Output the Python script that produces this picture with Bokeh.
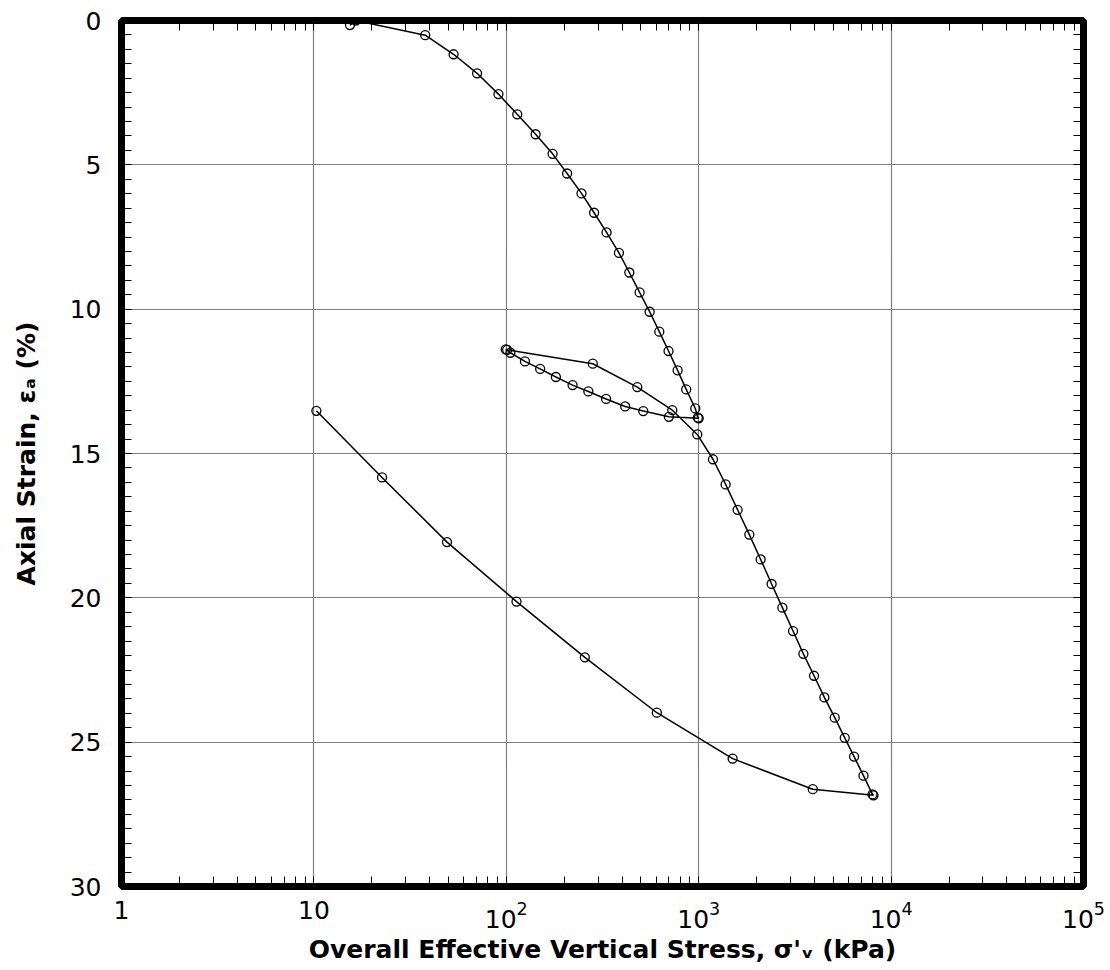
from bokeh.plotting import figure
from bokeh.models import (Range1d, FixedTicker, LogAxis, LinearAxis, LogTickFormatter,
                          CustomJSTickFormatter)
from bokeh.embed import file_html
from bokeh.resources import INLINE

# ---------------- data ----------------
# first loading branch: stress (kPa), axial strain (%)
load1_stress = [15.4, 16.5, 37.9, 53.2, 70.5, 91.0, 114, 142, 174, 207, 246, 286,
                332, 385, 436, 493, 556, 624, 697, 777, 861, 960, 990]
load1_strain = [0.16, 0.0, 0.51, 1.17, 1.83, 2.55, 3.25, 3.94, 4.62, 5.30, 5.99, 6.66,
                7.34, 8.05, 8.73, 9.42, 10.09, 10.78, 11.45, 12.12, 12.78, 13.44, 13.76]
# first unloading branch
unload1_stress = [1000, 700, 515, 415, 330, 267, 221, 181, 150, 125, 105, 99.3, 101]
unload1_strain = [13.78, 13.73, 13.53, 13.37, 13.11, 12.85, 12.63, 12.35, 12.07, 11.81,
                  11.51, 11.39, 11.41]
# reloading and continued loading
reload_stress = [281.5, 479.5, 729, 983, 1186, 1380, 1593, 1833, 2099, 2393, 2723, 3093,
                 3500, 3977, 4500, 5094, 5742, 6422, 7185, 8003]
reload_strain = [11.89, 12.70, 13.50, 14.34, 15.20, 16.07, 16.95, 17.81, 18.67, 19.52,
                 20.34, 21.15, 21.94, 22.70, 23.45, 24.15, 24.85, 25.50, 26.16, 26.81]
# final unloading
unload2_stress = [8100, 3916, 1501, 606, 256, 113, 49.2, 22.6, 10.3]
unload2_strain = [26.84, 26.63, 25.57, 23.98, 22.06, 20.13, 18.07, 15.83, 13.52]

# ticks and tick labels (1 and 10 plain, higher decades as powers of ten)
x_tick_values = [1, 10, 100, 1000, 10000, 100000]
x_plain_labels = {1: "1", 10: "10"}
y_tick_values = [0, 5, 10, 15, 20, 25, 30]

x_title = "Overall Effective Vertical Stress, \u03c3'\u1d65 (kPa)"
y_title = "Axial Strain, \u03b5\u2090 (%)"

# ---------------- figure ----------------
FONT = "DejaVu Sans"
p = figure(x_axis_type="log", x_range=Range1d(1, 1e5), y_range=Range1d(30, 0),
           frame_width=962, frame_height=866,
           min_border_left=121, min_border_right=25, min_border_top=20, min_border_bottom=82,
           output_backend="svg", toolbar_location=None,
           background_fill_color="white", border_fill_color="white")

bottom_axis = p.below[0]
left_axis = p.left[0]

x_minor = [m * 10 ** k for k in range(5) for m in range(2, 10)]
xt = FixedTicker(ticks=x_tick_values, minor_ticks=x_minor)
yt = FixedTicker(ticks=y_tick_values, minor_ticks=[i * 0.5 for i in range(61)])

bottom_axis.ticker = xt
left_axis.ticker = yt
bottom_axis.formatter = LogTickFormatter(min_exponent=1)
bottom_axis.major_label_overrides = x_plain_labels

top_axis = LogAxis(ticker=xt, formatter=CustomJSTickFormatter(code="return ''"))
right_axis = LinearAxis(ticker=yt, formatter=CustomJSTickFormatter(code="return ''"))
p.add_layout(top_axis, "above")
p.add_layout(right_axis, "right")

for ax in [bottom_axis, left_axis, top_axis, right_axis]:
    ax.axis_line_color = None
    ax.major_tick_in = 10
    ax.major_tick_out = 0
    ax.minor_tick_in = 10
    ax.minor_tick_out = 0
    ax.major_tick_line_color = "black"
    ax.minor_tick_line_color = "black"
    ax.major_tick_line_width = 1
    ax.minor_tick_line_width = 1

for ax in [top_axis, right_axis]:
    ax.major_label_text_font_size = "1px"
    ax.major_label_standoff = 0

for ax in [bottom_axis, left_axis]:
    ax.major_label_text_font = FONT
    ax.major_label_text_font_size = "25px"
    ax.major_label_text_color = "black"
    ax.axis_label_text_font = FONT
    ax.axis_label_text_font_size = "25px"
    ax.axis_label_text_font_style = "bold"
    ax.axis_label_text_color = "black"

bottom_axis.major_label_standoff = 14
left_axis.major_label_standoff = 20
bottom_axis.axis_label = x_title
left_axis.axis_label = y_title
bottom_axis.axis_label_standoff = 4
left_axis.axis_label_standoff = 26

p.xgrid.ticker = FixedTicker(ticks=x_tick_values)
p.ygrid.ticker = FixedTicker(ticks=y_tick_values)
for g in [p.xgrid[0], p.ygrid[0]]:
    g.grid_line_color = "#808080"
    g.grid_line_width = 1.2

p.outline_line_color = "black"
p.outline_line_width = 7
p.outline_line_alpha = 1.0

# ---------------- data marks ----------------
all_x = load1_stress + unload1_stress + reload_stress + unload2_stress
all_y = load1_strain + unload1_strain + reload_strain + unload2_strain
p.line(all_x, all_y, line_color="black", line_width=1.5)
p.scatter(all_x, all_y, marker="circle", size=9, line_color="black", line_width=1.3,
          fill_color=None)

open("out.html", "w").write(file_html(p, INLINE))
